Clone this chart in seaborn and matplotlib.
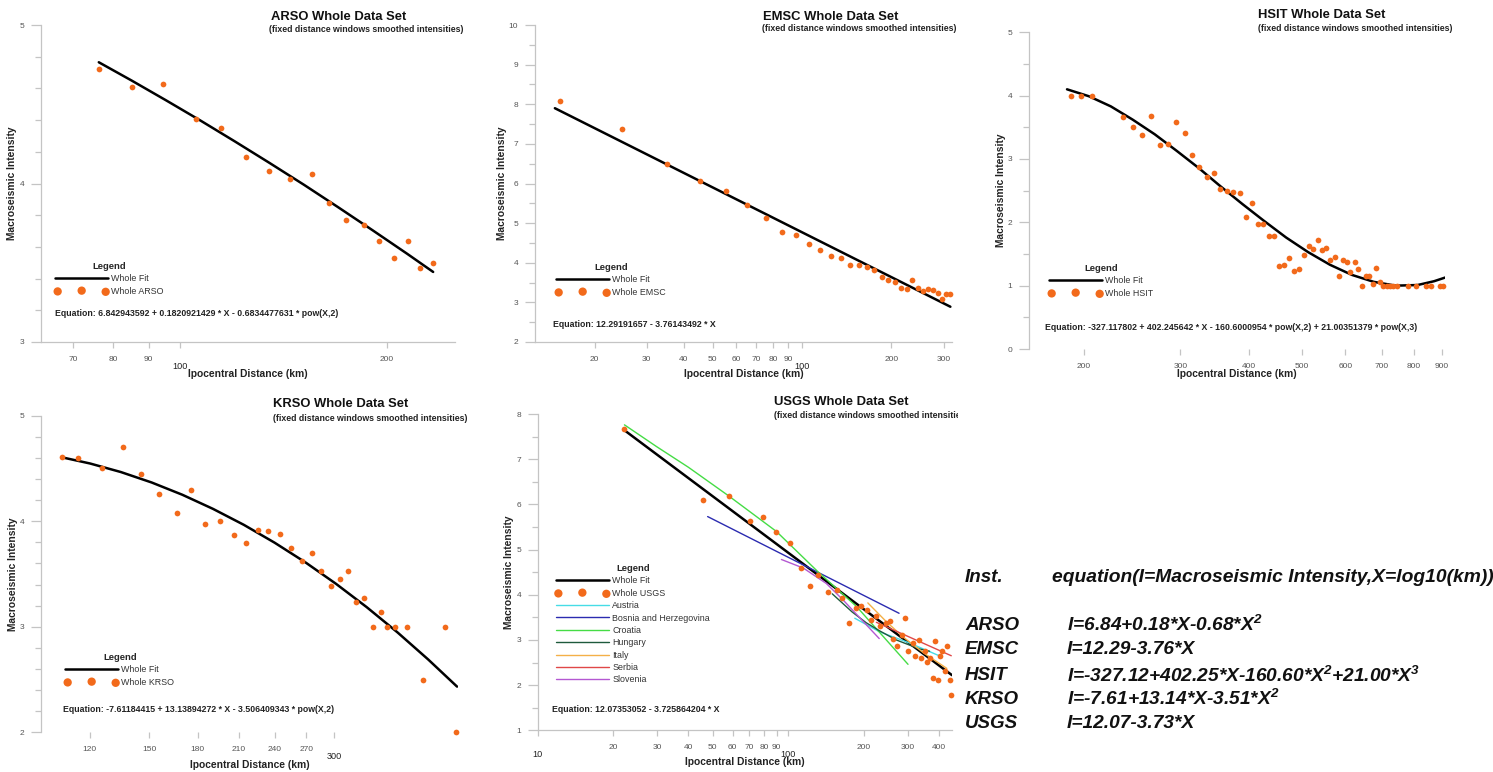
import numpy as np
import pandas as pd
import matplotlib
matplotlib.use("Agg")
import matplotlib.pyplot as plt
import seaborn as sns
from matplotlib.ticker import FixedLocator, NullLocator, NullFormatter, MultipleLocator
from matplotlib.transforms import Bbox, TransformedBbox

# ---------------- data ----------------
arso_dist = [76.3, 85.2, 94.6, 105.4, 114.7, 124.8, 134.9, 144.5, 155.5, 164.9, 174.4, 184.8, 194.7, 204.7, 214.3, 223.1, 233.3]
arso_int = [4.72, 4.61, 4.63, 4.41, 4.35, 4.17, 4.08, 4.03, 4.06, 3.88, 3.77, 3.74, 3.64, 3.53, 3.64, 3.47, 3.50]
arso_fit_dist = [76.2, 85.1, 95.5, 107.2, 120.2, 134.9, 151.4, 169.8, 190.5, 213.8, 233.3]
arso_fit_int = [4.765, 4.649, 4.524, 4.396, 4.265, 4.130, 3.992, 3.850, 3.705, 3.557, 3.442]

emsc_dist = [15.3, 24.8, 35.2, 45.2, 55.3, 65.1, 75.9, 85.6, 95.2, 105.6, 115.3, 125.3, 135.4, 145.2, 155.6, 166.0,
             175.4, 185.6, 195.4, 205.8, 215.7, 225.4, 235.5, 245.5, 255.1, 265.9, 275.6, 286.6, 297.2, 305.8, 316.2]
emsc_int = [8.09, 7.37, 6.49, 6.06, 5.80, 5.46, 5.13, 4.78, 4.69, 4.48, 4.32, 4.18, 4.12, 3.94, 3.94, 3.89,
            3.81, 3.63, 3.56, 3.51, 3.37, 3.35, 3.56, 3.37, 3.28, 3.35, 3.32, 3.24, 3.09, 3.20, 3.20]
emsc_fit_dist = [14.7, 316.0]
emsc_fit_int = [7.90, 2.89]

hsit_dist = [189.1, 197.5, 207.2, 235.3, 245.7, 254.9, 265.5, 274.9, 285.1, 294.9, 306.2, 315.3, 324.7, 335.4, 345.0,
             354.8, 364.9, 374.8, 384.9, 394.7, 404.8, 415.1, 425.1, 434.7, 445.2, 454.7, 464.3, 474.2, 483.6, 493.8,
             504.3, 514.3, 524.4, 534.9, 544.7, 554.0, 563.4, 573.7, 584.3, 594.2, 604.3, 612.0, 624.1, 633.8, 643.6,
             653.7, 663.8, 674.1, 683.7, 694.3, 704.1, 713.9, 724.0, 734.3, 744.7, 779.9, 806.6, 843.6, 859.1, 892.2, 903.5]
hsit_int = [4.00, 4.00, 4.00, 3.66, 3.51, 3.38, 3.68, 3.22, 3.23, 3.59, 3.41, 3.07, 2.88, 2.72, 2.78,
            2.53, 2.49, 2.48, 2.47, 2.09, 2.30, 1.98, 1.98, 1.79, 1.78, 1.31, 1.32, 1.44, 1.23, 1.26,
            1.48, 1.62, 1.58, 1.72, 1.57, 1.60, 1.41, 1.46, 1.15, 1.40, 1.37, 1.22, 1.37, 1.27, 1.00,
            1.15, 1.16, 1.02, 1.28, 1.06, 1.00, 1.00, 1.00, 1.00, 1.00, 1.00, 1.00, 1.00, 1.00, 1.00, 1.00]
hsit_fit_dist = [186.2, 204.2, 223.9, 245.5, 269.2, 295.1, 323.6, 354.8, 389.0, 426.6, 467.7, 512.9, 562.3, 616.6,
                 676.1, 741.3, 812.8, 871.0, 914.1]
hsit_fit_int = [4.10, 3.99, 3.83, 3.62, 3.39, 3.13, 2.86, 2.57, 2.29, 2.02, 1.76, 1.53, 1.33, 1.17,
                1.06, 1.00, 1.01, 1.07, 1.13]

krso_dist = [108.2, 115.0, 125.7, 135.8, 145.4, 155.6, 166.3, 175.2, 184.8, 195.7, 205.8, 215.5, 225.1, 233.7, 245.1,
             255.1, 265.5, 275.6, 285.1, 296.7, 306.4, 315.7, 325.7, 335.2, 346.7, 356.8, 365.8, 376.4, 394.2, 418.5,
             455.0, 474.2]
krso_int = [4.61, 4.60, 4.50, 4.70, 4.45, 4.26, 4.08, 4.30, 3.97, 4.00, 3.87, 3.79, 3.92, 3.91, 3.88,
            3.75, 3.62, 3.70, 3.53, 3.39, 3.45, 3.53, 3.23, 3.27, 3.00, 3.14, 3.00, 3.00, 3.00, 2.50,
            3.00, 2.00]
krso_fit_dist = [108.1, 120.2, 134.9, 151.4, 169.8, 190.5, 213.8, 239.9, 269.2, 302.0, 338.8, 380.2, 426.6, 475.3]
krso_fit_int = [4.606, 4.547, 4.466, 4.367, 4.251, 4.117, 3.966, 3.797, 3.611, 3.407, 3.186, 2.947, 2.690, 2.433]

usgs_dist = [22.2, 45.9, 57.8, 70.3, 79.0, 89.8, 101.9, 113.0, 122.8, 132.1, 144.8, 156.9, 164.2, 175.7, 186.2, 195.0,
             206.0, 214.9, 225.1, 233.6, 245.3, 254.4, 263.1, 272.2, 284.1, 292.0, 302.0, 315.3, 322.1, 332.1, 340.4,
             350.9, 359.6, 367.4, 378.8, 384.6, 396.6, 405.2, 412.8, 423.0, 432.2, 441.6, 448.3]
usgs_int = [7.66, 6.10, 6.19, 5.63, 5.71, 5.38, 5.14, 4.60, 4.19, 4.43, 4.07, 4.11, 3.93, 3.37, 3.70, 3.74,
            3.66, 3.44, 3.53, 3.30, 3.38, 3.42, 3.01, 2.87, 3.10, 3.49, 2.76, 2.93, 2.65, 2.99, 2.61,
            2.76, 2.52, 2.59, 2.15, 2.98, 2.12, 2.65, 2.76, 2.31, 2.86, 2.12, 1.78]
usgs_fit_dist = [22.2, 451.0]
usgs_fit_int = [7.64, 2.22]

countries = ["Austria", "Bosnia and Herzegovina", "Croatia", "Hungary", "Italy", "Serbia", "Slovenia"]
country_dist = {
    "Austria": [184.5, 231.6, 305.9, 408.7],
    "Bosnia and Herzegovina": [47.7, 277.2],
    "Croatia": [22.2, 29.8, 40.0, 57.8, 89.8, 132.0, 187.5, 301.0],
    "Hungary": [150, 180, 205, 232, 270, 335, 367],
    "Italy": [208, 247, 290, 350, 430],
    "Serbia": [225, 448],
    "Slovenia": [94, 115, 142, 166, 200, 231],
}
country_int = {
    "Austria": [3.48, 3.18, 2.93, 2.63],
    "Bosnia and Herzegovina": [5.73, 3.59],
    "Croatia": [7.76, 7.28, 6.82, 6.19, 5.40, 4.50, 3.74, 2.46],
    "Hungary": [4.02, 3.62, 3.38, 3.20, 3.00, 2.80, 2.75],
    "Italy": [3.82, 3.40, 3.05, 2.70, 2.37],
    "Serbia": [3.39, 2.65],
    "Slovenia": [4.78, 4.59, 4.25, 3.88, 3.40, 3.03],
}
country_colors = ["#46dce6", "#2b2bb0", "#45dc45", "#1e5a3c", "#f4b048", "#e04848", "#b458d2"]

eq_arso = "Equation: 6.842943592 + 0.1820921429 * X - 0.6834477631 * pow(X,2)"
eq_emsc = "Equation: 12.29191657 - 3.76143492 * X"
eq_hsit = "Equation: -327.117802 + 402.245642 * X - 160.6000954 * pow(X,2) + 21.00351379 * pow(X,3)"
eq_krso = "Equation: -7.61184415 + 13.13894272 * X - 3.506409343 * pow(X,2)"
eq_usgs = "Equation: 12.07353052 - 3.725864204 * X"

table_inst = ["ARSO", "EMSC", "HSIT", "KRSO", "USGS"]
table_eq = ["I=6.84+0.18*X-0.68*X$^{2}$", "I=12.29-3.76*X",
            "I=-327.12+402.25*X-160.60*X$^{2}$+21.00*X$^{3}$",
            "I=-7.61+13.14*X-3.51*X$^{2}$", "I=12.07-3.73*X"]

# ---------------- style ----------------
sns.set_style("white")
plt.rcParams["font.family"] = ["Liberation Sans", "DejaVu Sans"]
plt.rcParams["mathtext.fontset"] = "custom"
plt.rcParams["mathtext.rm"] = "Liberation Sans:bold:italic"
plt.rcParams["mathtext.it"] = "Liberation Sans:bold:italic"
plt.rcParams["mathtext.bf"] = "Liberation Sans:bold:italic"
plt.rcParams["mathtext.default"] = "rm"

ORANGE = "#f26a1b"
SPINE = "#c4c4c4"
TICKLAB = "#555555"
W, H = 1493, 772
fig = plt.figure(figsize=(W / 100, H / 100), dpi=100)


def fx(x):
    return x / W


def fy(y):
    return 1 - y / H


def panel(box, xlim, ylim, xticks, xlabels, lowered, ymajor, yminor, bottom_spine=True):
    l, r, t, b = box
    ax = fig.add_axes([fx(l), fy(b), (r - l) / W, (b - t) / H])
    ax.set_xscale("log")
    ax.set_xlim(*xlim)
    ax.set_ylim(*ylim)
    for s in ["top", "right"]:
        ax.spines[s].set_visible(False)
    ax.spines["left"].set_color(SPINE)
    ax.spines["left"].set_linewidth(0.9)
    ax.spines["bottom"].set_color(SPINE)
    ax.spines["bottom"].set_linewidth(0.9)
    ax.spines["bottom"].set_visible(bottom_spine)
    ax.xaxis.set_major_locator(FixedLocator(xticks))
    ax.set_xticklabels(xlabels)
    ax.xaxis.set_minor_locator(NullLocator())
    ax.xaxis.set_minor_formatter(NullFormatter())
    ax.yaxis.set_major_locator(MultipleLocator(ymajor))
    ax.yaxis.set_minor_locator(MultipleLocator(yminor))
    ax.tick_params(axis="y", which="major", direction="out", left=True, length=7, width=0.9,
                   color=SPINE, labelsize=6, labelcolor=TICKLAB, pad=5)
    ax.tick_params(axis="y", which="minor", direction="out", left=True, length=4.5, width=0.9, color=SPINE)
    ax.tick_params(axis="x", which="major", direction="out", bottom=True, length=4, width=0.9,
                   color=SPINE, labelsize=6, labelcolor=TICKLAB, pad=6)
    for tick in ax.xaxis.get_major_ticks():
        if tick.get_loc() in lowered:
            tick.set_pad(10.5)
            tick.label1.set_color("#222222")
            tick.label1.set_fontsize(6.6)
    ax.grid(False)
    ax.set_facecolor("none")
    return ax


def decorate(ax, box, title, ylab_x, xlab_y, title_xy, sub_xy, eq, eq_xy, leg_xy):
    l, r, t, b = box
    ax.set_ylabel("Macroseismic Intensity", fontsize=7.4, fontweight="bold", color="#222222")
    ax.yaxis.set_label_coords((ylab_x - l) / (r - l), 0.5)
    ax.yaxis.label.set_va("center")
    ax.set_xlabel("Ipocentral Distance (km)", fontsize=7.4, fontweight="bold", color="#222222")
    ax.xaxis.set_label_coords(0.5, -(xlab_y - b) / (b - t))
    ax.xaxis.label.set_va("center")
    fig.text(fx(title_xy[0]), fy(title_xy[1]), title, fontsize=9.4, fontweight="bold",
             ha="left", va="center", color="#111111")
    st = fig.text(fx(sub_xy[0]), fy(sub_xy[1]), "(fixed distance windows smoothed intensities)",
                  fontsize=6.3, fontweight="bold", ha="left", va="center", color="#222222")
    fig.text(fx(eq_xy[0]), fy(eq_xy[1]), eq, fontsize=6.3, fontweight="bold", ha="left",
             va="center", color="#222222")
    handles, labels = ax.get_legend_handles_labels()
    order = [labels.index("Whole Fit")] + [i for i, lb in enumerate(labels) if lb != "Whole Fit"]
    leg = ax.legend([handles[i] for i in order], [labels[i] for i in order], title="Legend",
                    loc="upper left", bbox_to_anchor=(fx(leg_xy[0]), fy(leg_xy[1])),
                    bbox_transform=fig.transFigure, borderaxespad=0, borderpad=0, frameon=False,
                    fontsize=6.4, title_fontproperties={"weight": "bold", "size": 6.8},
                    handlelength=6.0, handletextpad=0.35, labelspacing=0.38, scatterpoints=3,
                    markerscale=1.45)
    for txt in leg.get_texts():
        txt.set_color("#333333")
    return st


def draw_fit_and_points(ax, fit_d, fit_i, d, i, name):
    sns.lineplot(x=fit_d, y=fit_i, ax=ax, color="black", linewidth=1.8, label="Whole Fit",
                 estimator=None, sort=False, zorder=2)
    sns.scatterplot(x=d, y=i, ax=ax, color=ORANGE, s=17, linewidth=0, label="Whole " + name,
                    clip_on=False, zorder=4)


# ARSO
box = (41, 455, 25, 342)
ax = panel(box, (62.8, 251), (3, 5), [70, 80, 90, 100, 200], ["70", "80", "90", "100", "200"], [100], 1, 0.2)
draw_fit_and_points(ax, arso_fit_dist, arso_fit_int, arso_dist, arso_int, "ARSO")
decorate(ax, box, "ARSO Whole Data Set", 12, 374, (271, 17), (269, 29), eq_arso, (55, 314), (55, 262))

# EMSC
box = (535, 952, 25, 342)
ax = panel(box, (12.6, 320), (2, 10), [20, 30, 40, 50, 60, 70, 80, 90, 100, 200, 300],
           ["20", "30", "40", "50", "60", "70", "80", "90", "100", "200", "300"], [100], 1, 0.5)
draw_fit_and_points(ax, emsc_fit_dist, emsc_fit_int, emsc_dist, emsc_int, "EMSC")
decorate(ax, box, "EMSC Whole Data Set", 502, 374, (763, 17), (762, 28.5), eq_emsc, (553, 325), (556, 263))

# HSIT
box = (1029, 1445, 32.3, 349)
ax = panel(box, (158.7, 912), (0, 5), [200, 300, 400, 500, 600, 700, 800, 900],
           ["200", "300", "400", "500", "600", "700", "800", "900"], [], 1, 0.5, bottom_spine=False)
draw_fit_and_points(ax, hsit_fit_dist, hsit_fit_int, hsit_dist, hsit_int, "HSIT")
decorate(ax, box, "HSIT Whole Data Set", 1001, 374, (1258, 15), (1258, 28.3), eq_hsit, (1045, 327.3), (1049, 264))

# KRSO
box = (41, 458, 415.7, 732.3)
ax = panel(box, (100, 477), (2, 5), [120, 150, 180, 210, 240, 270, 300],
           ["120", "150", "180", "210", "240", "270", "300"], [300], 1, 0.2, bottom_spine=False)
draw_fit_and_points(ax, krso_fit_dist, krso_fit_int, krso_dist, krso_int, "KRSO")
decorate(ax, box, "KRSO Whole Data Set", 12.7, 765, (273, 404), (273, 418.3), eq_krso, (62.7, 710), (65, 653))

# USGS
box = (537.7, 952, 414, 730.3)
ax = panel(box, (10, 451), (1, 8), [10, 20, 30, 40, 50, 60, 70, 80, 90, 100, 200, 300, 400],
           ["10", "20", "30", "40", "50", "60", "70", "80", "90", "100", "200", "300", "400"], [10, 100], 1, 0.5)
sns.lineplot(x=usgs_fit_dist, y=usgs_fit_int, ax=ax, color="black", linewidth=1.8, label="Whole Fit",
             estimator=None, sort=False, zorder=2)
sns.scatterplot(x=usgs_dist, y=usgs_int, ax=ax, color=ORANGE, s=17, linewidth=0, label="Whole USGS",
                clip_on=False, zorder=4)
for cname, ccol in zip(countries, country_colors):
    sns.lineplot(x=country_dist[cname], y=country_int[cname], ax=ax, color=ccol, linewidth=1.0,
                 label=cname, estimator=None, sort=False, zorder=3)
st = decorate(ax, box, "USGS Whole Data Set", 509, 762.3, (774, 401.7), (774, 415.7), eq_usgs, (552, 709),
              (555.7, 564))
st.set_clip_box(TransformedBbox(Bbox([[0, 0], [958 / W, 1]]), fig.transFigure))
st.set_clip_on(True)

# Equation table
tkw = dict(fontweight="bold", style="italic", color="#111111", va="center", ha="left")
fig.text(fx(965), fy(578), "Inst.", fontsize=13.5, **tkw)
fig.text(fx(1051.7), fy(578), "equation(I=Macroseismic Intensity,X=log10(km))", fontsize=13.9, **tkw)
row_y = [625.0, 650.0, 675.5, 699.3, 723.3]
for inst, eq, yy in zip(table_inst, table_eq, row_y):
    fig.text(fx(965), fy(yy), inst, fontsize=13.5, **tkw)
    fig.text(fx(1067), fy(yy), eq, fontsize=13.8, **tkw)

fig.savefig("out.png", dpi=100)
